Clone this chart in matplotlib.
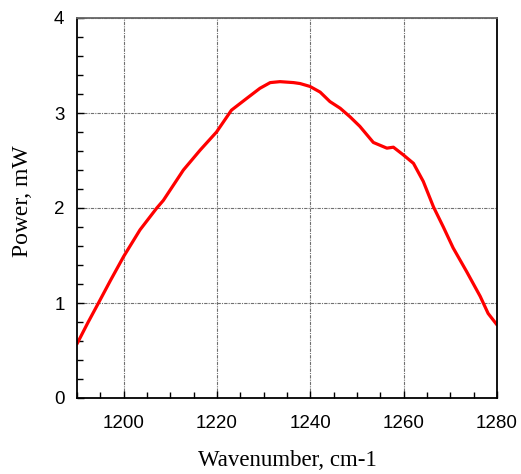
import matplotlib
matplotlib.use("Agg")
import matplotlib.pyplot as plt
from matplotlib.ticker import MultipleLocator

# values
wavenumber = [1190.0, 1192.3, 1194.6, 1197.2, 1200.0, 1203.5, 1207.1, 1208.5,
              1212.8, 1216.4, 1219.9, 1223.1, 1226.4, 1229.2, 1231.4, 1233.5,
              1236.4, 1237.8, 1239.9, 1242.1, 1244.2, 1246.4, 1248.5, 1250.6,
              1253.5, 1256.4, 1257.8, 1259.9, 1262.1, 1264.2, 1266.4, 1268.5,
              1270.6, 1273.5, 1276.4, 1278.1, 1280.0]
power_mw = [0.57, 0.79, 1.00, 1.24, 1.49, 1.77, 2.00, 2.08,
            2.40, 2.61, 2.80, 3.03, 3.155, 3.26, 3.32, 3.33,
            3.32, 3.31, 3.28, 3.22, 3.12, 3.05, 2.96, 2.86,
            2.69, 2.63, 2.64, 2.56, 2.47, 2.28, 2.01, 1.80,
            1.58, 1.33, 1.07, 0.89, 0.77]

x_ticks = [1200, 1220, 1240, 1260, 1280]
y_ticks = [0, 1, 2, 3, 4]

fig = plt.figure(figsize=(5.21, 4.74), dpi=100)
ax = fig.add_axes([77 / 521, 76 / 474, 420 / 521, 380 / 474])

ax.plot(wavenumber, power_mw, color="#ff0000", lw=2.3, solid_capstyle="round")

ax.set_xlim(1190, 1280)
ax.set_ylim(0, 4)
ax.set_xticks(x_ticks)
ax.set_yticks(y_ticks)
ax.xaxis.set_minor_locator(MultipleLocator(5))
ax.yaxis.set_minor_locator(MultipleLocator(0.2))
ax.grid(True, which="major", color="#707070", ls=(0, (3, 1, 1, 1)), lw=0.8)

ax.tick_params(which="both", direction="in", top=False, right=False)
ax.tick_params(which="major", length=5, width=1)
ax.tick_params(which="minor", length=4, width=1)
ax.tick_params(axis="x", pad=12)
ax.tick_params(axis="y", pad=9)
for lbl in ax.get_xticklabels() + ax.get_yticklabels():
    lbl.set_fontfamily("Liberation Sans")
    lbl.set_fontsize(13.5)

for side in ax.spines.values():
    side.set_linewidth(1.3)
ax.spines["top"].set_color("#666666")

ax.set_xlabel("Wavenumber, cm-1", fontfamily="Liberation Serif", fontsize=16.5, labelpad=13)
ax.set_ylabel("Power, mW", fontfamily="Liberation Serif", fontsize=17, labelpad=15)
ax.yaxis.label.set_y(0.518)

fig.savefig("out.png", dpi=100)
